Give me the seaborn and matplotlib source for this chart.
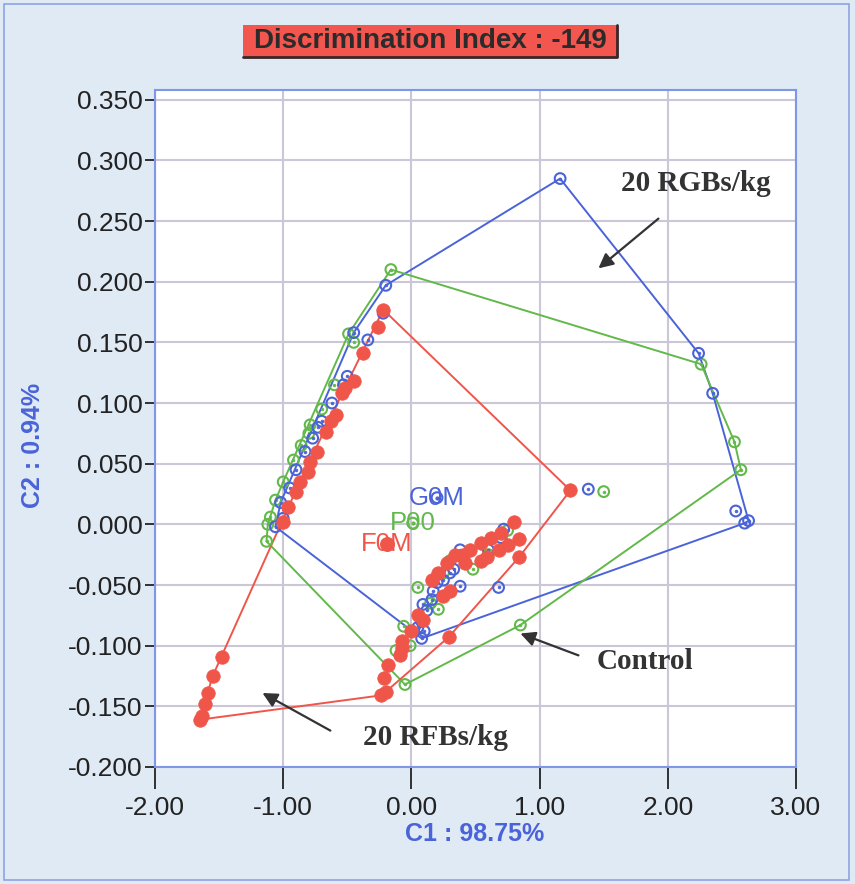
import numpy as np
import pandas as pd
import matplotlib
matplotlib.use("Agg")
import matplotlib.pyplot as plt
from matplotlib.patches import Rectangle
from matplotlib.lines import Line2D
import seaborn as sns

# ---- data: discriminant scores (C1, C2) for each feed group ----
g0m_c1 = [1.16, 2.24, 2.35, 2.63, 2.60, 2.53, 1.38, 0.08, 0.68,
          -0.20, -0.22, -0.45, -0.34, -0.50, -0.53, -0.62, -0.70, -0.73, -0.77,
          -0.83, -0.90, -0.95, -1.02, -1.06, -1.00,
          0.72, 0.70, 0.60, 0.38, 0.40, 0.33, 0.30, 0.25, 0.20, 0.38, 0.17,
          0.16, 0.09, 0.12, 0.08, 0.10, 0.05]
g0m_c2 = [0.285, 0.141, 0.108, 0.003, 0.001, 0.011, 0.029, -0.094, -0.052,
          0.197, 0.174, 0.158, 0.152, 0.122, 0.115, 0.100, 0.085, 0.080, 0.071,
          0.060, 0.045, 0.030, 0.018, -0.002, 0.005,
          -0.004, -0.011, -0.021, -0.021, -0.027, -0.037, -0.040, -0.046, -0.048, -0.051, -0.055,
          -0.062, -0.066, -0.071, -0.080, -0.088, -0.085]

p00_c1 = [-0.16, 2.26, 2.52, 2.57, 1.50, 0.85, -0.05, -1.13,
          -0.49, -0.45, -0.60, -0.70, -0.79, -0.80, -0.86, -0.92, -1.00, -1.06, -1.10, -1.12,
          0.05, 0.21, -0.06, -0.01, -0.12, 0.30, 0.48, 0.75, 0.15, 0.25, 0.60]
p00_c2 = [0.210, 0.132, 0.068, 0.045, 0.027, -0.083, -0.132, -0.014,
          0.157, 0.150, 0.115, 0.095, 0.082, 0.075, 0.065, 0.053, 0.035, 0.020, 0.006, 0.000,
          -0.052, -0.070, -0.084, -0.100, -0.104, -0.030, -0.037, -0.005, -0.065, -0.040, -0.025]

f0m_c1 = [-0.22, -0.26, -0.375, -0.45, -0.54, -0.52, -0.59, -0.63, -0.67, -0.74, -0.79,
          -0.81, -0.87, -0.90, -0.96, -1.00,
          -1.48, -1.55, -1.59, -1.61, -1.63, -1.65,
          -0.24, -0.20, -0.21, -0.18, -0.09, -0.07, -0.07, 0.29,
          0.00, 0.05, 0.09, 0.16, 0.21, 0.25, 0.30, 0.28, 0.34, 0.40, 0.42, 0.46, 0.54,
          0.54, 0.59, 0.62, 0.68, 0.70, 0.75, 0.80, 0.84, 0.84,
          1.24]
f0m_c2 = [0.177, 0.163, 0.141, 0.118, 0.108, 0.112, 0.090, 0.085, 0.076, 0.060, 0.051,
          0.043, 0.035, 0.027, 0.014, 0.002,
          -0.109, -0.125, -0.139, -0.148, -0.158, -0.161,
          -0.141, -0.138, -0.127, -0.116, -0.108, -0.102, -0.096, -0.093,
          -0.088, -0.075, -0.079, -0.046, -0.040, -0.059, -0.055, -0.032, -0.025, -0.025, -0.032, -0.021, -0.030,
          -0.015, -0.027, -0.011, -0.021, -0.007, -0.017, 0.002, -0.012, -0.027,
          0.028]

groups = ["G0M", "P00", "F0M"]
colors = {"G0M": "#4a63d8", "P00": "#62b94a", "F0M": "#f0554a"}
label_pos = {"G0M": (0.20, 0.022), "P00": (0.01, 0.001), "F0M": (-0.19, -0.016)}

notes = ["20 RGBs/kg", "Control", "20 RFBs/kg"]
note_text_xy = [(2.215, 0.281), (1.825, -0.113), (0.187, -0.176)]
note_tail_xy = [(1.927, 0.252), (1.303, -0.108), (-0.632, -0.170)]
note_head_xy = [(1.459, 0.211), (0.850, -0.090), (-1.162, -0.139)]

x_ticks = [-2, -1, 0, 1, 2, 3]
y_ticks = [0.35, 0.30, 0.25, 0.20, 0.15, 0.10, 0.05, 0.0, -0.05, -0.10, -0.15, -0.20]

df = pd.concat([
    pd.DataFrame({"C1": g0m_c1, "C2": g0m_c2, "group": "G0M"}),
    pd.DataFrame({"C1": p00_c1, "C2": p00_c2, "group": "P00"}),
    pd.DataFrame({"C1": f0m_c1, "C2": f0m_c2, "group": "F0M"}),
], ignore_index=True)


def convex_hull(pts):
    pts = sorted(set(map(tuple, pts)))
    def cross(o, a, b):
        return (a[0] - o[0]) * (b[1] - o[1]) - (a[1] - o[1]) * (b[0] - o[0])
    lower, upper = [], []
    for p in pts:
        while len(lower) >= 2 and cross(lower[-2], lower[-1], p) <= 0:
            lower.pop()
        lower.append(p)
    for p in reversed(pts):
        while len(upper) >= 2 and cross(upper[-2], upper[-1], p) <= 0:
            upper.pop()
        upper.append(p)
    hull = lower[:-1] + upper[:-1]
    return np.array(hull + [hull[0]])


sns.set_theme(style="white")
plt.rcParams["font.family"] = ["Liberation Sans", "DejaVu Sans"]
plt.rcParams["axes.unicode_minus"] = False

BG = "#dfeaf5"
fig = plt.figure(figsize=(8.55, 8.84), dpi=100, facecolor=BG)
W, H = 855.0, 884.0
ax = fig.add_axes([155 / W, 1 - 767 / H, 641 / W, 677 / H])
ax.set_facecolor("white")

# hull outlines
for g in groups:
    sub = df[df.group == g]
    hull = convex_hull(sub[["C1", "C2"]].values)
    ax.plot(hull[:, 0], hull[:, 1], color=colors[g], lw=1.4, zorder=3)

# points: open circles with centre dot for G0M / P00, filled discs for F0M
for g in ["P00", "G0M"]:
    sub = df[df.group == g]
    sns.scatterplot(data=sub, x="C1", y="C2", ax=ax, s=60, marker="o",
                    facecolor="none", edgecolor=colors[g], linewidth=1.5,
                    zorder=4, legend=False)
    sns.scatterplot(data=sub, x="C1", y="C2", ax=ax, s=4, color=colors[g],
                    edgecolor=colors[g], linewidth=0.5, zorder=4, legend=False)
sub = df[df.group == "F0M"]
sns.scatterplot(data=sub, x="C1", y="C2", ax=ax, s=95, color=colors["F0M"],
                edgecolor=colors["F0M"], linewidth=0.5, zorder=5, legend=False)

# group labels with centroid marker
for g in groups:
    lx, ly = label_pos[g]
    ax.text(lx, ly, g, color=colors[g], fontsize=18.5, ha="center", va="center", zorder=6)
    if g == "F0M":
        ax.scatter([lx], [ly], s=95, color=colors[g], zorder=6)
    else:
        ax.scatter([lx], [ly], s=60, facecolor="none", edgecolor=colors[g], linewidth=1.5, zorder=6)
        ax.scatter([lx], [ly], s=4, color=colors[g], zorder=6)

# treatment annotations
for txt, (tx, ty), (ax0, ay0), (hx, hy) in zip(notes, note_text_xy, note_tail_xy, note_head_xy):
    ax.text(tx, ty, txt, fontsize=21, fontweight="bold", color="#333333",
            family=["Liberation Serif", "DejaVu Serif"], ha="center", va="center", zorder=7)
    ax.annotate("", xy=(hx, hy), xytext=(ax0, ay0),
                arrowprops=dict(arrowstyle="-|>", color="#333333", lw=1.6,
                                mutation_scale=22, shrinkA=0, shrinkB=0), zorder=7)

ax.set_xlim(-2, 3)
ax.set_ylim(-0.2, 0.358)
ax.set_xticks(x_ticks)
ax.set_yticks(y_ticks)
ax.set_xticklabels([f"{v:.2f}" for v in x_ticks])
ax.set_yticklabels([f"{v:.3f}" for v in y_ticks])
ax.grid(True, color="#cbc7d8", lw=1.5)
ax.set_axisbelow(True)
for sp in ax.spines.values():
    sp.set_visible(True)
    sp.set_color("#7f97e6")
    sp.set_linewidth(1.5)
ax.tick_params(axis="both", which="both", direction="out", colors="#222222",
               labelsize=19, left=True, bottom=True)
ax.tick_params(axis="y", length=7, width=1.3, pad=2)
ax.tick_params(axis="x", length=16, width=1.3, pad=5)

ax.set_xlabel("C1 : 98.75%", fontsize=18, fontweight="bold", color="#4a63d8")
ax.set_ylabel("C2 : 0.94%", fontsize=18, fontweight="bold", color="#4a63d8")
ax.xaxis.set_label_coords((475 - 155) / 641, (767 - 834) / 677)
ax.xaxis.label.set_va("center")
ax.yaxis.set_label_coords((33 - 155) / 641, (767 - 445) / 677)
ax.yaxis.label.set_va("center")

# title badge
fig.patches.append(Rectangle((243 / W, 1 - 57 / H), 374 / W, 32 / H,
                             transform=fig.transFigure, facecolor="#f2564e",
                             edgecolor="none", zorder=1))
fig.lines.append(Line2D([243 / W, 617 / W, 617 / W], [1 - 57 / H, 1 - 57 / H, 1 - 25 / H],
                        transform=fig.transFigure, color="#3a2626", lw=2))
fig.text(430 / W, 1 - 41 / H, "Discrimination Index : -149", fontsize=20,
         fontweight="bold", color="#2b2b2b", ha="center", va="center")

# outer frame
fig.patches.append(Rectangle((4 / W, 4 / H), 845 / W, 876 / H, transform=fig.transFigure,
                             facecolor="none", edgecolor="#8ea4e4", lw=1.2))

fig.savefig("out.png", dpi=100, facecolor=BG)
